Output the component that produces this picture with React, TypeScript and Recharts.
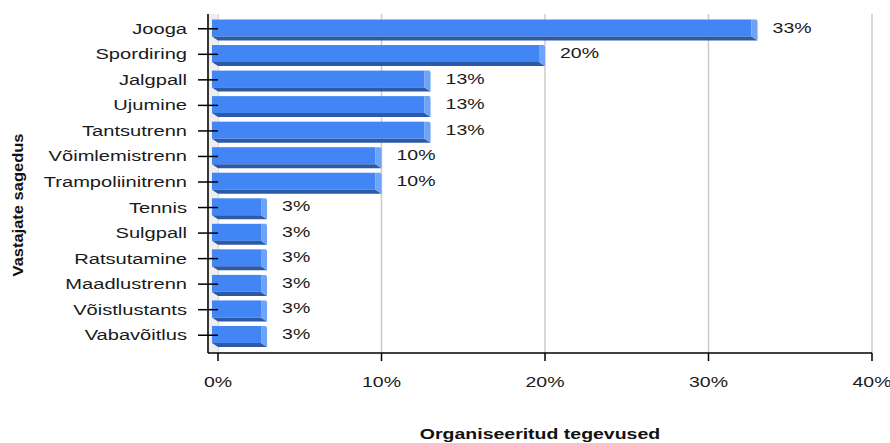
import React from 'react'
import { BarChart, Bar, XAxis, YAxis, CartesianGrid, LabelList, Customized } from 'recharts'

const categories = [
  'Jooga', 'Spordiring', 'Jalgpall', 'Ujumine', 'Tantsutrenn', 'Võimlemistrenn',
  'Trampoliinitrenn', 'Tennis', 'Sulgpall', 'Ratsutamine', 'Maadlustrenn',
  'Võistlustants', 'Vabavõitlus',
]
const shares = [33, 20, 13, 13, 13, 10, 10, 3, 3, 3, 3, 3, 3]
const xTicks = [0, 10, 20, 30, 40]

const data = categories.map((name, i) => ({ name, value: shares[i] }))

const FONT = '"Liberation Sans", Arial, sans-serif'
const STRETCH = 1.3
const DEPTH = 6

const YTick = (props: any) => {
  const { x, y, payload } = props
  return (
    <g>
      <line x1={x - 10} x2={x + 10} y1={y} y2={y} stroke="#000" strokeWidth={1.5} />
      <text
        transform={`translate(${x - 21},${y + 5}) scale(1.34,1)`}
        textAnchor="end"
        fontFamily={FONT}
        fontSize={15}
        fill="#1a1a1a"
      >
        {payload.value}
      </text>
    </g>
  )
}

const XTick = (props: any) => {
  const { x, y, payload } = props
  return (
    <g>
      <line x1={x} x2={x} y1={y} y2={y + 8} stroke="#000" strokeWidth={1.5} />
      <text
        transform={`translate(${x},${y + 34}) scale(${STRETCH},1)`}
        textAnchor="middle"
        fontFamily={FONT}
        fontSize={15}
        fill="#1a1a1a"
      >
        {`${payload.value}%`}
      </text>
    </g>
  )
}

// 3D box: front face shifted left by DEPTH, bottom + right faces visible
const Bar3D = (props: any) => {
  const { x, y, width, height } = props
  const cy = y + height / 2
  const top = cy - 9
  const x0 = x
  const x1 = x + width
  return (
    <g>
      <rect x={x0 - DEPTH} y={top} width={width} height={17} fill="#4285f4" />
      <polygon
        points={`${x0 - DEPTH},${top + 17} ${x1 - DEPTH},${top + 17} ${x1},${top + 21} ${x0},${top + 21}`}
        fill="#2c5aa6"
      />
      <polygon
        points={`${x1 - DEPTH},${top} ${x1 - 1},${top} ${x1},${top + 2} ${x1},${top + 21} ${x1 - DEPTH},${top + 17}`}
        fill="#6da3f8"
      />
    </g>
  )
}

const ValueLabel = (props: any) => {
  const { x, y, width, height, value } = props
  return (
    <text
      transform={`translate(${x + width + 15},${y + height / 2 + 4}) scale(${STRETCH},1)`}
      fontFamily={FONT}
      fontSize={15}
      fill="#1a1a1a"
    >
      {`${value}%`}
    </text>
  )
}

const Wall = () => <rect x={209} y={14} width={9} height={339} fill="#eeeeee" />

const Titles = () => (
  <g fontFamily={FONT} fontSize={15} fontWeight="bold" fill="#111">
    <text transform={`translate(540,439) scale(${STRETCH},1)`} textAnchor="middle">
      Organiseeritud tegevused
    </text>
    <text transform="translate(23,205) rotate(-90) scale(1.1,1)" textAnchor="middle">
      Vastajate sagedus
    </text>
  </g>
)

export default function App() {
  return (
    <div style={{ position: 'absolute', left: 0, top: 0, width: 890, height: 443, background: '#fff' }}>
      <BarChart
        width={890}
        height={443}
        data={data}
        layout="vertical"
        margin={{ top: 14, right: 18, bottom: 0, left: 0 }}
        barSize={21}
      >
        <Customized component={Wall} />
        <CartesianGrid horizontal={false} stroke="#cccccc" strokeWidth={1.5} />
        <XAxis
          type="number"
          domain={[0, 40]}
          ticks={xTicks}
          padding={{ left: 10, right: 0 }}
          height={90}
          axisLine={{ stroke: '#000', strokeWidth: 1.5 }}
          tickLine={false}
          tickSize={0}
          tickMargin={0}
          tick={<XTick />}
          interval={0}
        />
        <YAxis
          type="category"
          dataKey="name"
          width={208}
          padding={{ top: 2, bottom: 5 }}
          axisLine={{ stroke: '#000', strokeWidth: 1.5 }}
          tickLine={false}
          tickSize={0}
          tickMargin={0}
          tick={<YTick />}
          interval={0}
        />
        <Bar dataKey="value" shape={<Bar3D />} isAnimationActive={false}>
          <LabelList dataKey="value" content={<ValueLabel />} />
        </Bar>
        <Customized component={Titles} />
      </BarChart>
    </div>
  )
}
